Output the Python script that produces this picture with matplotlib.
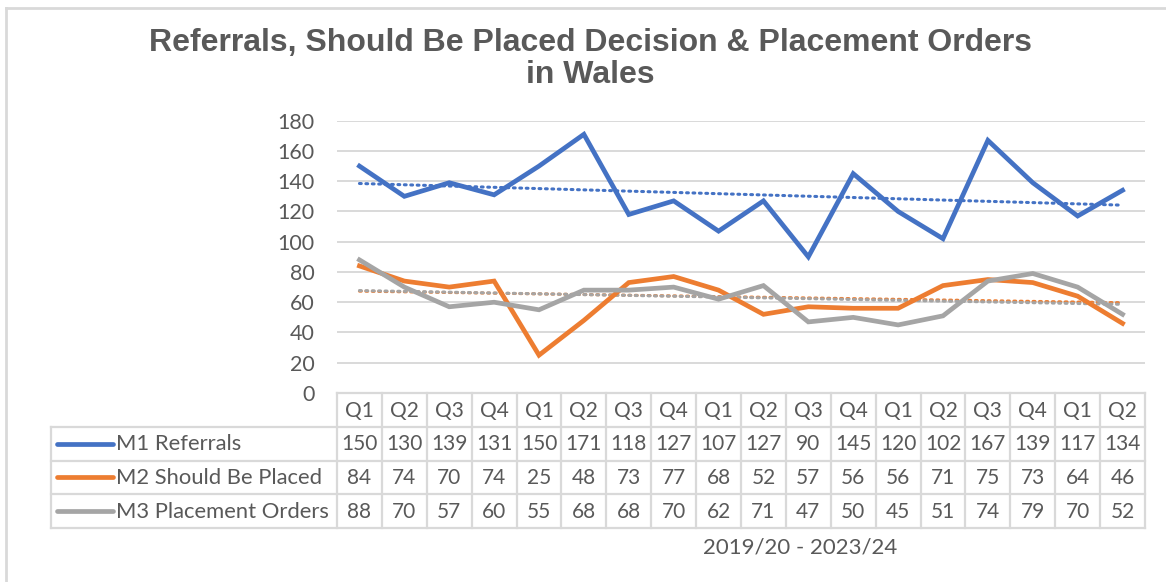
import numpy as np
import matplotlib
matplotlib.use("Agg")
import matplotlib.pyplot as plt
from matplotlib.lines import Line2D

#--- DATA ---------------------------------------------------------------------+

quarters = ["Q1", "Q2", "Q3", "Q4", "Q1", "Q2", "Q3", "Q4", "Q1",
            "Q2", "Q3", "Q4", "Q1", "Q2", "Q3", "Q4", "Q1", "Q2"]
m1_referrals = [150, 130, 139, 131, 150, 171, 118, 127, 107,
                127, 90, 145, 120, 102, 167, 139, 117, 134]
m2_should_be_placed = [84, 74, 70, 74, 25, 48, 73, 77, 68,
                       52, 57, 56, 56, 71, 75, 73, 64, 46]
m3_placement_orders = [88, 70, 57, 60, 55, 68, 68, 70, 62,
                       71, 47, 50, 45, 51, 74, 79, 70, 52]
series_names = ["M1 Referrals", "M2 Should Be Placed", "M3 Placement Orders"]
series_colors = ["#4472C4", "#ED7D31", "#A5A5A5"]

title = "Referrals, Should Be Placed Decision & Placement Orders\nin Wales"
xlabel = "2019/20 - 2023/24"

#--- LAYOUT -------------------------------------------------------------------+

W, H = 1166, 582
txt_col = "#595959"
grid_col = "#D9D9D9"
plt.rcParams['font.family'] = ['Lato', 'DejaVu Sans']

fig = plt.figure(figsize=(W / 100, H / 100), dpi=100)

def px(l, t, r, b):
    return [l / W, 1 - b / H, (r - l) / W, (b - t) / H]

# outer chart frame (only top and left visible in reference)
fig.add_artist(Line2D([6 / W, 6 / W], [0, 1 - 8 / H], transform=fig.transFigure,
                      color=grid_col, lw=2))
fig.add_artist(Line2D([6 / W, 1], [1 - 8 / H, 1 - 8 / H], transform=fig.transFigure,
                      color=grid_col, lw=2))

fig.text(590 / W, 1 - 59 / H, title, ha='center', va='center', fontsize=23,
         fontweight='bold', family='Liberation Sans', color=txt_col, linespacing=1.12)

#--- MAIN PLOT ----------------------------------------------------------------+

ax = fig.add_axes(px(337, 120.7, 1145, 393))
x = np.arange(len(quarters))
all_series = [m1_referrals, m2_should_be_placed, m3_placement_orders]

for vals, c in zip(all_series, series_colors):
    vals = np.array(vals)
    ax.plot(x, vals, color=c, lw=3.4, solid_joinstyle='miter', zorder=3)
    # linear trend line, dotted
    k, b0 = np.polyfit(x, vals, 1)
    ax.plot(x, k * x + b0, color=c, lw=2.2, ls=(0, (0.6, 1.5)),
            dash_capstyle='round', zorder=2)

ax.set_xlim(-0.5, len(quarters) - 0.5)
ax.set_ylim(0, 180)
ax.set_yticks(range(0, 181, 20))
ax.set_xticks([])
ax.yaxis.grid(True, color=grid_col, lw=1.4)
ax.set_axisbelow(True)
for s in ax.spines.values():
    s.set_visible(False)
ax.tick_params(axis='y', length=0, pad=16, labelsize=15.5, labelcolor=txt_col)

#--- DATA TABLE ---------------------------------------------------------------+

colw = (1145 - 337) / len(quarters)
labw = (337 - 51) / colw
tx = fig.add_axes(px(51, 393, 1145, 528))
tx.set_xlim(-0.5 - labw, len(quarters) - 0.5)
tx.set_ylim(4, 0)
tx.axis('off')

lk = dict(color=grid_col, lw=1.6, clip_on=False)
# horizontal lines
tx.plot([-0.5, len(quarters) - 0.5], [0, 0], **lk)
for r in range(1, 5):
    tx.plot([-0.5 - labw, len(quarters) - 0.5], [r, r], **lk)
# vertical lines
tx.plot([-0.5 - labw, -0.5 - labw], [1, 4], **lk)
for i in range(len(quarters) + 1):
    tx.plot([i - 0.5, i - 0.5], [0, 4], **lk)

tfs = 15
for i, q in enumerate(quarters):
    tx.text(i, 0.52, q, ha='center', va='center', fontsize=tfs, color=txt_col)
for r, (vals, name, c) in enumerate(zip(all_series, series_names, series_colors)):
    yc = r + 1.52
    for i, v in enumerate(vals):
        tx.text(i, yc, str(v), ha='center', va='center', fontsize=tfs, color=txt_col)
    x0 = -0.5 - labw + 6 / colw
    tx.plot([x0, x0 + 56 / colw], [yc - 0.02, yc - 0.02], color=c, lw=3.4,
            solid_capstyle='round', clip_on=False)
    tx.text(x0 + 59 / colw, yc, name, ha='left', va='center', fontsize=15.8, color=txt_col)

fig.text(800 / W, 1 - 548 / H, xlabel, ha='center', va='center', fontsize=16, color=txt_col)

fig.savefig("out.png", dpi=100, facecolor='white')
